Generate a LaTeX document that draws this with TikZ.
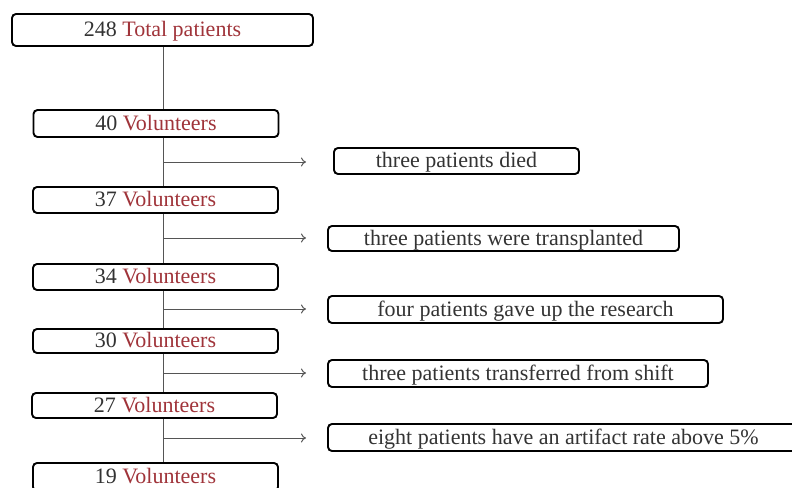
\documentclass[tikz,border=0pt]{standalone}
\usepackage{fontspec}
\setmainfont{Liberation Serif}
\usetikzlibrary{arrows.meta}
\definecolor{numgray}{HTML}{333333}
\definecolor{wordred}{HTML}{A0343A}
\definecolor{linegray}{HTML}{555555}
\tikzset{
  stagebox/.style={draw=black, line width=1.9pt, rounded corners=4pt, fill=white,
    inner sep=0pt, minimum width=245pt, minimum height=26pt,
    text height=16pt, text depth=3pt,
    font=\fontsize{22}{24}\selectfont, text=numgray},
  lossbox/.style={draw=black, line width=1.9pt, rounded corners=4pt, fill=white,
    inner sep=0pt, minimum height=26pt,
    text height=16pt, text depth=3pt,
    font=\fontsize{22}{24}\selectfont, text=numgray},
  flow/.style={draw=linegray, line width=1pt},
  side/.style={draw=linegray, line width=1pt, -{To[length=5pt,width=9pt]}}
}
\newcommand{\vol}[1]{#1 \textcolor{wordred}{Volunteers}}
\begin{document}
\begin{tikzpicture}[x=1pt,y=-1pt]
\useasboundingbox (0,0) rectangle (792,487);
\clip (0,0) rectangle (792,487);
% main column
\node[stagebox, minimum width=301pt, minimum height=32pt] (tot) at (162.5,30) {248 \textcolor{wordred}{Total patients}};
\node[stagebox, minimum height=27pt] (v40) at (156,123.5) {\vol{40}};
\node[stagebox] (v37) at (155.5,200) {\vol{37}};
\node[stagebox] (v34) at (155.5,277) {\vol{34}};
\node[stagebox, minimum height=24pt] (v30) at (155.5,341) {\vol{30}};
\node[stagebox, minimum height=25pt] (v27) at (154.5,405.5) {\vol{27}};
\node[stagebox, minimum height=28pt] (v19) at (155.5,477) {\vol{19}};
% exclusion boxes
\node[lossbox, minimum width=245pt] (l1) at (456.5,161) {three patients died};
\node[lossbox, minimum width=351pt, minimum height=25pt] (l2) at (503.5,238.5) {three patients were transplanted};
\node[lossbox, minimum width=395pt, minimum height=27pt] (l3) at (525.5,309.5) {four patients gave up the research};
\node[lossbox, minimum width=380pt, minimum height=27pt] (l4) at (518,373.5) {three patients transferred from shift};
\node[lossbox, minimum width=471pt, minimum height=27pt] (l5) at (563.5,437.5) {eight patients have an artifact rate above 5\%};
% branch points on the spine and free arrow ends
\coordinate (s1) at (163,162);
\coordinate (s2) at (163,238);
\coordinate (s3) at (163,309);
\coordinate (s4) at (163,373);
\coordinate (s5) at (163,438);
\coordinate (e1) at (306,162);
\coordinate (e2) at (306,238);
\coordinate (e3) at (306,309);
\coordinate (e4) at (306,373);
\coordinate (e5) at (306,438);
\draw[flow] (tot.south -| 163,0) -- (v40.north -| 163,0);
\draw[flow] (v40.south -| 163,0) -- (v37.north -| 163,0);
\draw[flow] (v37.south -| 163,0) -- (v34.north -| 163,0);
\draw[flow] (v34.south -| 163,0) -- (v30.north -| 163,0);
\draw[flow] (v30.south -| 163,0) -- (v27.north -| 163,0);
\draw[flow] (v27.south -| 163,0) -- (v19.north -| 163,0);
\draw[side] (s1) -- (e1);
\draw[side] (s2) -- (e2);
\draw[side] (s3) -- (e3);
\draw[side] (s4) -- (e4);
\draw[side] (s5) -- (e5);
\end{tikzpicture}
\end{document}
